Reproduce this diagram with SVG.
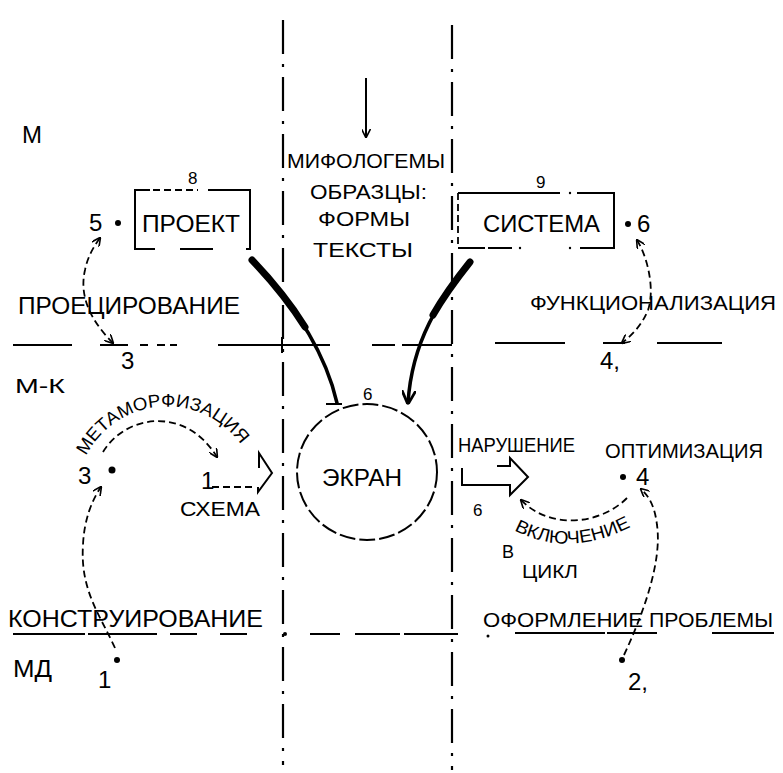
<svg xmlns="http://www.w3.org/2000/svg" width="783" height="773" viewBox="0 0 783 773">
<defs>
<style>
text{font-family:"Liberation Sans","DejaVu Sans",sans-serif;fill:#000}
.l{font-size:24px}
.m{font-size:21px}
.s{font-size:17px}
.ln{fill:none;stroke:#000;stroke-width:2}
.dd{fill:none;stroke:#000;stroke-width:2.2;stroke-dasharray:34 10 3 10}
.da{fill:none;stroke:#000;stroke-width:1.8;stroke-dasharray:7 4}
.th{fill:none;stroke:#000;stroke-linecap:round}
.dot{fill:#000}
</style>
<marker id="ah" viewBox="0 0 10 10" refX="9" refY="5" markerWidth="9" markerHeight="9" markerUnits="userSpaceOnUse" orient="auto-start-reverse">
<path d="M0,0 L10,5 L0,10" fill="none" stroke="#000" stroke-width="1.8"/>
</marker>
<marker id="ahb" viewBox="0 0 10 10" refX="9" refY="5" markerWidth="14" markerHeight="14" markerUnits="userSpaceOnUse" orient="auto">
<path d="M0,0 L10,5 L0,10" fill="none" stroke="#000" stroke-width="2"/>
</marker>
</defs>
<rect width="783" height="773" fill="#fff"/>

<g id="axes">
<path class="dd" d="M283,20 V765"/>
<path class="dd" d="M452,25 V770"/>
<path class="ln" d="M13,345 H72 M100,345 H128 M140,345 H148 M157,345 H165 M170,345 H177 M218,345 H330 M372,345 H395 M402,345 H452 M495,343 H565 M603,343 H625 M657,343 H722"/>
<path class="ln" d="M282,337 V353"/>
<path class="ln" d="M13,634 H85 M88,634 H157 M170,634 H197 M220,634 H247 M310,634 H340 M355,634 H400 M404,634 H458 M515,633 H605 M607,633 H657 M712,633 H774"/>
<circle class="dot" cx="285" cy="634" r="2"/>
<circle class="dot" cx="488" cy="636" r="1.5"/>
</g>

<g id="level-M">
<text class="l" x="22" y="143">М</text>
</g>
<g id="level-MK">
<text class="m" x="15" y="393" textLength="50" lengthAdjust="spacingAndGlyphs">М-К</text>
</g>
<g id="level-MD">
<text class="l" x="13" y="677" textLength="39" lengthAdjust="spacingAndGlyphs">МД</text>
</g>

<g id="node-sources">
<text class="m" x="287" y="168" textLength="158" lengthAdjust="spacingAndGlyphs">МИФОЛОГЕМЫ</text>
<text class="m" x="310" y="199" textLength="117" lengthAdjust="spacingAndGlyphs">ОБРАЗЦЫ:</text>
<text class="m" x="318" y="226" textLength="92" lengthAdjust="spacingAndGlyphs">ФОРМЫ</text>
<text class="m" x="313" y="257" textLength="100" lengthAdjust="spacingAndGlyphs">ТЕКСТЫ</text>
</g>

<g id="node-project">
<path class="ln" d="M150,190 H135 V249 H155 M208,190 H250 V249 H246 M180,249 H213"/>
<path class="da" d="M153,190 H198"/>
<text class="l" x="142" y="232" textLength="98" lengthAdjust="spacingAndGlyphs">ПРОЕКТ</text>
<text class="s" x="188" y="184">8</text>
<text class="l" x="89" y="231">5</text>
<circle class="dot" cx="118" cy="223" r="3"/>
</g>

<g id="node-system">
<path class="ln" d="M458,193 H560 M577,193 H614 V248 H580 M458,248 H485 M488,248 H512"/>
<path class="da" d="M458,193 V248"/>
<circle class="dot" cx="570" cy="193" r="1.2"/>
<circle class="dot" cx="520" cy="248" r="1.2"/>
<circle class="dot" cx="570" cy="248" r="1.2"/>
<text class="l" x="483" y="232" textLength="117" lengthAdjust="spacingAndGlyphs">СИСТЕМА</text>
<text class="s" x="536" y="188">9</text>
<circle class="dot" cx="628" cy="224" r="3"/>
<text class="l" x="637" y="232">6</text>
</g>

<g id="node-projecting">
<text class="l" x="18" y="314" textLength="222" lengthAdjust="spacingAndGlyphs">ПРОЕЦИРОВАНИЕ</text>
<text class="l" x="121" y="369">3</text>
</g>

<g id="node-functionalization">
<text class="m" x="530" y="310" textLength="246" lengthAdjust="spacingAndGlyphs">ФУНКЦИОНАЛИЗАЦИЯ</text>
<text class="l" x="600" y="369">4,</text>
</g>

<g id="node-metamorph">
<text class="l" x="78" y="484">3</text>
<circle class="dot" cx="112" cy="470" r="3.5"/>
<path id="metaArc" d="M86,456 A91 91 0 0 1 248,456" fill="none"/>
<text style="font-size:18px"><textPath href="#metaArc" textLength="186" lengthAdjust="spacingAndGlyphs">МЕТАМОРФИЗАЦИЯ</textPath></text>
</g>

<g id="node-scheme">
<text class="l" x="201" y="489">1</text>
<path class="da" d="M212,487 H255"/>
<path class="ln" d="M259,468 V453 L272,473 L258,492 V487"/>
<text class="m" x="180" y="516" textLength="80" lengthAdjust="spacingAndGlyphs">СХЕМА</text>
</g>

<g id="node-screen">
<ellipse cx="367" cy="472" rx="70" ry="68" fill="none" stroke="#000" stroke-width="2" stroke-dasharray="16 4"/>
<text class="l" x="322" y="486" textLength="80" lengthAdjust="spacingAndGlyphs">ЭКРАН</text>
<text class="s" x="363" y="400">6</text>
</g>

<g id="node-violation">
<text class="m" x="458" y="452" textLength="117" lengthAdjust="spacingAndGlyphs">НАРУШЕНИЕ</text>
<path class="ln" d="M497,466 H510 V458 L528,477 L510,495 V485 H462 V468"/>
<text class="s" x="473" y="516">6</text>
</g>

<g id="node-optimization">
<text class="m" x="605" y="458" textLength="158" lengthAdjust="spacingAndGlyphs">ОПТИМИЗАЦИЯ</text>
<circle class="dot" cx="623" cy="477" r="3"/>
<text class="l" x="636" y="485">4</text>
</g>

<g id="node-inclusion">
<path id="inclArc" d="M514,530 Q570,560 636,524" fill="none"/>
<text style="font-size:18px"><textPath href="#inclArc" textLength="122" lengthAdjust="spacingAndGlyphs">ВКЛЮЧЕНИЕ</textPath></text>
<text style="font-size:18px" x="502" y="558">В</text>
<text style="font-size:18px" x="522" y="578" textLength="56" lengthAdjust="spacingAndGlyphs">ЦИКЛ</text>
</g>

<g id="node-construction">
<text class="l" x="8" y="627" textLength="255" lengthAdjust="spacingAndGlyphs">КОНСТРУИРОВАНИЕ</text>
<text class="l" x="98" y="688">1</text>
<circle class="dot" cx="117" cy="660" r="3"/>
</g>

<g id="node-problem">
<text class="m" x="483" y="627" textLength="160" lengthAdjust="spacingAndGlyphs">ОФОРМЛЕНИЕ</text>
<text class="m" x="649" y="627" textLength="124" lengthAdjust="spacingAndGlyphs">ПРОБЛЕМЫ</text>
<circle class="dot" cx="622" cy="660" r="3"/>
<text class="l" x="628" y="690">2,</text>
</g>

<g id="connectors">
<path class="ln" d="M366,78 V137" marker-end="url(#ah)"/>
<path class="th" stroke-width="3.5" d="M252,260 C290,300 325,350 337,403"/>
<path class="th" stroke-width="7" d="M252,260 C272,281 290,303 305,327"/>
<path class="ln" stroke-width="3" d="M326,404 H342"/>
<path class="th" stroke-width="3.5" d="M470,262 C440,300 412,340 408,403" marker-end="url(#ahb)"/>
<path class="th" stroke-width="7" d="M470,262 C458,277 445,294 433,315"/>
<path class="da" d="M113,343 C95,325 78,300 85,270 C88,255 95,245 100,238" marker-start="url(#ah)" marker-end="url(#ah)"/>
<path class="da" d="M637,240 C648,258 655,290 648,310 C642,325 632,335 622,343" marker-start="url(#ah)" marker-end="url(#ah)"/>
<path class="da" d="M103,452 C125,415 185,405 217,457" marker-end="url(#ah)"/>
<path class="da" d="M627,498 C600,525 550,530 521,500" marker-end="url(#ah)"/>
<path class="da" d="M624,655 C645,610 662,560 657,525 C655,508 650,497 641,489" marker-end="url(#ah)"/>
<path class="da" d="M115,648 C100,615 80,590 83,545 C84,520 92,500 101,487" marker-end="url(#ah)"/>
</g>
</svg>
